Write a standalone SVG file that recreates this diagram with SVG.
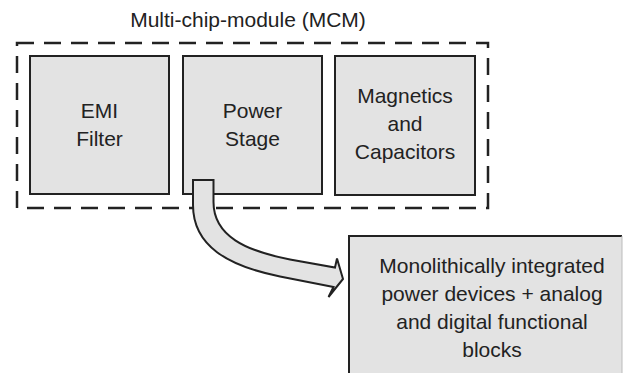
<svg xmlns="http://www.w3.org/2000/svg" width="626" height="373" viewBox="0 0 626 373">
  <style>
    .box { fill: #e3e3e3; stroke: #222; stroke-width: 2; }
    .mcm { fill: none; stroke: #222; stroke-width: 2.5; stroke-dasharray: 17 10; }
    .lbl { font-family: "Liberation Sans", Arial, sans-serif; font-size: 21px; fill: #222; text-anchor: middle; }
    .arrow { fill: #e3e3e3; stroke: #222; stroke-width: 2; stroke-linejoin: miter; }
  </style>
  <rect width="626" height="373" fill="#fff"/>

  <!-- Multi-chip module outline -->
  <g id="mcm">
    <text class="lbl" x="248" y="27">Multi-chip-module (MCM)</text>
    <rect class="mcm" x="17" y="43" width="471" height="165"/>
  </g>

  <g id="emi-filter">
    <rect class="box" x="30" y="56" width="139" height="138"/>
    <text class="lbl" x="99.5" y="118">EMI</text>
    <text class="lbl" x="99.5" y="146">Filter</text>
  </g>

  <g id="power-stage">
    <rect class="box" x="183" y="56" width="139" height="138"/>
    <text class="lbl" x="252.5" y="118">Power</text>
    <text class="lbl" x="252.5" y="146">Stage</text>
  </g>

  <g id="magnetics">
    <rect class="box" x="335" y="56" width="140" height="139"/>
    <text class="lbl" x="405" y="103">Magnetics</text>
    <text class="lbl" x="405" y="131">and</text>
    <text class="lbl" x="405" y="159">Capacitors</text>
  </g>

  <g id="monolithic">
    <rect x="349" y="236" width="273" height="150" fill="#e3e3e3"/>
    <path d="M349,386 V236 H622" fill="none" stroke="#222" stroke-width="2"/>
    <path d="M622,236 V373" fill="none" stroke="#bbb" stroke-width="1"/>
    <text class="lbl" x="492" y="273">Monolithically integrated</text>
    <text class="lbl" x="492" y="301">power devices + analog</text>
    <text class="lbl" x="492" y="329">and digital functional</text>
    <text class="lbl" x="492" y="357">blocks</text>
  </g>

  <!-- curved block arrow from the power stage to the monolithic block -->
  <g id="connectors">
    <path class="arrow" d="M193,180 H213.5 V202 C213.5,236 246,251 290,259.5 L335,267.5 L337,258.5 L343,279 L328.5,297 L333.5,287 L280,276.5 C228,266 193,246 193,205 Z"/>
  </g>
</svg>
